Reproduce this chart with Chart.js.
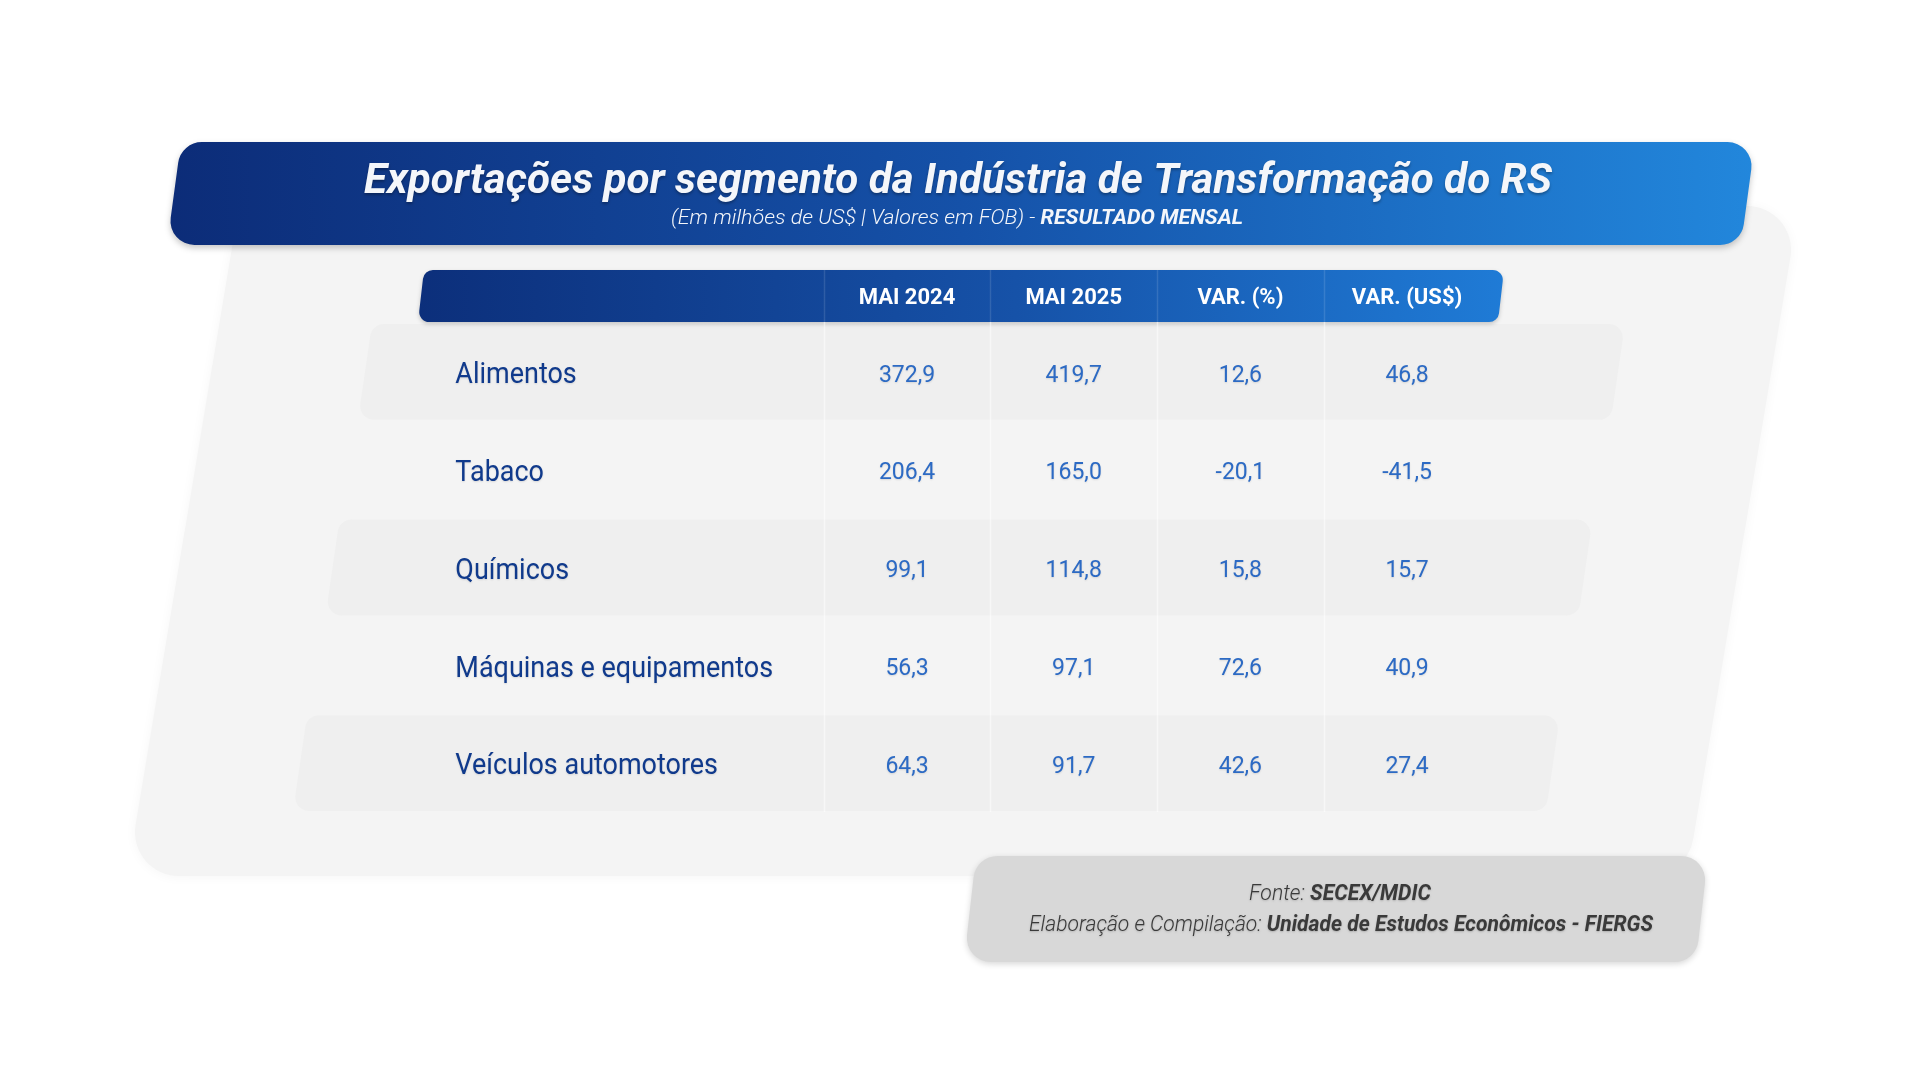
<!DOCTYPE html>
<html>
<head>
<meta charset="utf-8">
<script src="https://cdn.jsdelivr.net/npm/chart.js@4.4.1/dist/chart.umd.min.js"></script>
<style>
  html,body{margin:0;padding:0;background:#fff;}
  #wrap{width:1920px;height:1080px;position:relative;}
</style>
</head>
<body>
<div id="wrap"><canvas id="tbl" width="1920" height="1080"></canvas></div>
<script>
// table data
const rowLabels = ['Alimentos','Tabaco','Químicos','Máquinas e equipamentos','Veículos automotores'];
const colLabels = ['MAI 2024','MAI 2025','VAR. (%)','VAR. (US$)'];
const mai2024 = [372.9, 206.4, 99.1, 56.3, 64.3];
const mai2025 = [419.7, 165.0, 114.8, 97.1, 91.7];
const varPct  = [12.6, -20.1, 15.8, 72.6, 42.6];
const varUsd  = [46.8, -41.5, 15.7, 40.9, 27.4];
const columns = [mai2024, mai2025, varPct, varUsd];

const titleText = 'Exportações por segmento da Indústria de Transformação do RS';
const subSegs = [['(Em milhões de US$ | Valores em FOB) - ','italic 300'],['RESULTADO MENSAL','italic 700']];
const srcSegs1 = [['Fonte: ','italic 300'],['SECEX/MDIC','italic 700']];
const srcSegs2 = [['Elaboração e Compilação: ','italic 300'],['Unidade de Estudos Econômicos - FIERGS','italic 700']];

const FONT = 'Roboto, "Open Sans", sans-serif';
const fmt = v => v.toFixed(1).replace('.', ',');

// slanted rounded box, pts = tl,tr,br,bl
function slant(x, y, w, h, skew){ return [[x+skew,y],[x+w+skew,y],[x+w,y+h],[x,y+h]]; }
function boxPath(ctx, p, r){
  ctx.beginPath();
  ctx.moveTo((p[0][0]+p[1][0])/2, p[0][1]);
  ctx.arcTo(p[1][0],p[1][1],p[2][0],p[2][1],r);
  ctx.arcTo(p[2][0],p[2][1],p[3][0],p[3][1],r);
  ctx.arcTo(p[3][0],p[3][1],p[0][0],p[0][1],r);
  ctx.arcTo(p[0][0],p[0][1],p[1][0],p[1][1],r);
  ctx.closePath();
}
// mixed font line, squeezed to a target width
function mixedText(ctx, segs, size, cx, y, width){
  let tot = 0;
  const ws = segs.map(s => { ctx.font = s[1]+' '+size+'px '+FONT; const w = ctx.measureText(s[0]).width; tot += w; return w; });
  ctx.save();
  ctx.translate(cx, y);
  ctx.scale(width ? width/tot : 1, 1);
  let x = -tot/2;
  ctx.textAlign = 'left';
  segs.forEach((s,i) => { ctx.font = s[1]+' '+size+'px '+FONT; ctx.fillText(s[0], x, 0); x += ws[i]; });
  ctx.restore();
}

const tablePlugin = {
  id:'tablePlugin',
  beforeDraw(chart){
    const ctx = chart.ctx;
    ctx.save();
    ctx.fillStyle = '#fff';
    ctx.fillRect(0,0,chart.width,chart.height);
    // back panel
    ctx.shadowColor = 'rgba(0,0,0,0.04)'; ctx.shadowBlur = 12; ctx.shadowOffsetY = 1;
    boxPath(ctx, slant(127,206,1560,670,112), 44);
    ctx.fillStyle = '#f4f4f4'; ctx.fill();
    // footer box
    ctx.shadowColor = 'rgba(0,0,0,0.16)'; ctx.shadowBlur = 6; ctx.shadowOffsetY = 2;
    boxPath(ctx, slant(964,856,732,106,12), 24);
    ctx.fillStyle = '#d8d8d8'; ctx.fill();
    // title banner
    ctx.shadowColor = 'rgba(0,0,0,0.22)'; ctx.shadowBlur = 6; ctx.shadowOffsetY = 3;
    const g = ctx.createLinearGradient(167,0,1757,0);
    g.addColorStop(0,'#0c2c78'); g.addColorStop(0.5,'#1551a8'); g.addColorStop(1,'#2287dc');
    boxPath(ctx, slant(167,142,1574,103,14), 24);
    ctx.fillStyle = g; ctx.fill();
    // titles
    ctx.shadowColor = 'rgba(0,0,0,0.3)'; ctx.shadowBlur = 3; ctx.shadowOffsetY = 2;
    ctx.fillStyle = '#f4f6fa';
    ctx.textBaseline = 'alphabetic';
    mixedText(ctx, [[titleText,'italic 700']], 42, 958, 193, 1188);
    ctx.shadowBlur = 0; ctx.shadowOffsetY = 0;
    mixedText(ctx, subSegs, 21, 957, 224, 572);
    // source
    ctx.shadowColor = 'rgba(0,0,0,0.2)'; ctx.shadowBlur = 2; ctx.shadowOffsetY = 1;
    ctx.fillStyle = '#3a3a3a';
    mixedText(ctx, srcSegs1, 22, 1340, 900, 182);
    mixedText(ctx, srcSegs2, 22, 1341, 931, 624);
    ctx.restore();
  },
  beforeDatasetsDraw(chart){
    const ctx = chart.ctx, xs = chart.scales.x, ys = chart.scales.y, ca = chart.chartArea;
    const pitch = ys.getPixelForValue(1) - ys.getPixelForValue(0);
    const y0 = ys.getPixelForValue(0);
    ctx.save();
    // row stripes
    rowLabels.forEach((lab, r) => {
      if (r % 2) return;
      const yc = ys.getPixelForValue(r);
      const sh = 0.166*(yc - y0);
      const l = 365 - sh, rt = 1618 - sh;
      boxPath(ctx, slant(l-7, yc-pitch/2+1, rt-l, pitch-2, 14), 14);
      ctx.fillStyle = '#efefef'; ctx.fill();
    });
    // header bar
    const hTop = ca.top - 53;
    const hg = ctx.createLinearGradient(418,0,1504,0);
    hg.addColorStop(0,'#0c2f7b'); hg.addColorStop(0.55,'#1652a8'); hg.addColorStop(1,'#1f7bd6');
    ctx.shadowColor = 'rgba(0,0,0,0.2)'; ctx.shadowBlur = 4; ctx.shadowOffsetY = 2;
    boxPath(ctx, slant(418,hTop,1080,52,6), 10);
    ctx.fillStyle = hg; ctx.fill();
    ctx.shadowColor = 'transparent';
    // column separators
    for (let c = 0; c < colLabels.length; c++){
      const x = Math.round(xs.getPixelForValue(c - 0.5)) + 0.5;
      ctx.lineWidth = 1.5;
      ctx.strokeStyle = 'rgba(255,255,255,0.12)';
      ctx.beginPath(); ctx.moveTo(x, hTop); ctx.lineTo(x, hTop+52); ctx.stroke();
      ctx.strokeStyle = 'rgba(255,255,255,0.5)';
      ctx.beginPath(); ctx.moveTo(x, hTop+52); ctx.lineTo(x, ca.bottom); ctx.stroke();
    }
    // header labels
    ctx.fillStyle = '#ffffff';
    ctx.font = 'bold 22px ' + FONT;
    ctx.textAlign = 'center'; ctx.textBaseline = 'middle';
    colLabels.forEach((t, c) => ctx.fillText(t, xs.getPixelForValue(c), hTop + 28));
    ctx.restore();
  },
  afterDatasetsDraw(chart){
    const ctx = chart.ctx, xs = chart.scales.x, ys = chart.scales.y;
    ctx.save();
    ctx.textBaseline = 'middle';
    ctx.shadowColor = 'rgba(0,0,0,0.12)'; ctx.shadowBlur = 2; ctx.shadowOffsetY = 1;
    // row labels
    ctx.fillStyle = '#103a8c';
    ctx.font = '29px ' + FONT;
    ctx.textAlign = 'left';
    const lx = xs.getPixelForValue(-2.71);
    rowLabels.forEach((t, r) => {
      ctx.save();
      ctx.translate(lx, ys.getPixelForValue(r) + 4);
      ctx.scale(0.93, 1);
      ctx.fillText(t, 0, 0);
      ctx.restore();
    });
    // values
    ctx.fillStyle = '#2c6ac4';
    ctx.font = '23px ' + FONT;
    ctx.textAlign = 'center';
    chart.data.datasets.forEach((ds, d) => {
      chart.getDatasetMeta(d).data.forEach((pt, i) => {
        ctx.fillText(fmt(ds.data[i].v), pt.x, pt.y + 4);
      });
    });
    ctx.restore();
  }
};

new Chart(document.getElementById('tbl'), {
  type:'scatter',
  data:{
    datasets: columns.map((vals, c) => ({
      label: colLabels[c],
      data: vals.map((v, r) => ({x:c, y:rowLabels[r], v:v})),
      pointRadius:0, pointHoverRadius:0
    }))
  },
  options:{
    responsive:false, devicePixelRatio:1, animation:false, events:[],
    layout:{padding:{left:323.7, right:346.3, top:323, bottom:268}},
    scales:{
      x:{type:'linear', min:-3.5, max:4, display:false},
      y:{type:'category', labels:rowLabels, offset:true, display:false}
    },
    plugins:{legend:{display:false}, tooltip:{enabled:false}, title:{display:false}}
  },
  plugins:[tablePlugin]
});
</script>
</body>
</html>
